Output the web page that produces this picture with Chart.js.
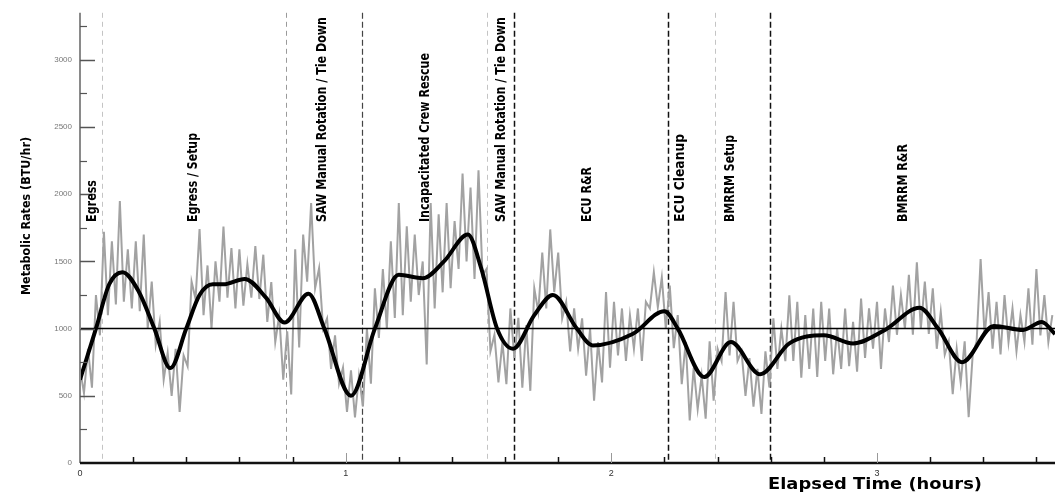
<!DOCTYPE html>
<html lang="en">
<head>
<meta charset="UTF-8">
<title>Metabolic Rates</title>
<style>
  body { margin: 0; padding: 0; background: #fff; }
  #wrap { width: 1055px; height: 493px; }
</style>
<script src="https://cdn.jsdelivr.net/npm/chart.js"></script>
</head>
<body>
<div id="wrap"><canvas id="metChart" width="1055" height="493"></canvas></div>
<script>
// Raw metabolic rate trace (BTU/hr), one reading every rawStep hours
const rawStep = 0.015;
const rawValues = [
  700, 520, 850, 560, 1250, 950, 1720, 1100, 1650, 1180,
  1950, 1200, 1590, 1150, 1650, 1130, 1700, 1000, 1350, 880,
  1050, 620, 820, 500, 850, 380, 800, 720, 1350, 1220,
  1740, 1100, 1470, 1000, 1500, 1200, 1760, 1230, 1600, 1150,
  1590, 1170, 1480, 1230, 1615, 1220, 1550, 1050, 1346, 900,
  1100, 620, 980, 510, 1590, 860, 1700, 1350, 1934, 1300,
  1450, 1000, 1076, 700, 950, 590, 710, 380, 690, 340,
  650, 420, 1000, 590, 1300, 930, 1444, 1000, 1650, 1080,
  1934, 1100, 1762, 1200, 1700, 1250, 1500, 733, 1934, 1150,
  1850, 1270, 1934, 1300, 1800, 1444, 2154, 1500, 2050, 1370,
  2179, 1400, 1444, 831, 954, 600, 900, 586, 1150, 782,
  1080, 560, 1027, 537, 1300, 1125, 1566, 1150, 1738, 1272,
  1566, 1076, 1199, 831, 1150, 850, 1076, 650, 1000, 463,
  900, 600, 1272, 709, 1200, 800, 1150, 760, 1100, 850,
  1150, 760, 1200, 1150, 1419, 1160, 1380, 1000, 1321, 855,
  1100, 586, 900, 316, 709, 400, 650, 330, 905, 463,
  850, 758, 1272, 800, 1200, 760, 831, 500, 780, 420,
  700, 365, 831, 562, 1076, 700, 1000, 758, 1248, 760,
  1199, 635, 1100, 700, 1150, 640, 1199, 760, 1150, 660,
  1000, 700, 1150, 720, 1050, 680, 1223, 782, 1150, 850,
  1200, 700, 1150, 900, 1321, 954, 1250, 1000, 1400, 954,
  1493, 1000, 1350, 960, 1300, 850, 1125, 807, 905, 513,
  850, 600, 905, 341, 800, 905, 1517, 950, 1272, 850,
  1200, 807, 1250, 900, 1150, 831, 1100, 900, 1300, 880,
  1444, 950, 1250, 900, 1100
];

// Smoothed trend (black curve)
const smoothTimes = [
  0.00, 0.06, 0.11, 0.16, 0.22, 0.28, 0.34, 0.40, 0.45, 0.50,
  0.54, 0.62, 0.70, 0.77, 0.86, 0.92, 1.02, 1.11, 1.20, 1.29,
  1.37, 1.46, 1.51, 1.57, 1.63, 1.71, 1.78, 1.87, 1.93, 2.08,
  2.20, 2.25, 2.35, 2.45, 2.56, 2.67, 2.80, 2.91, 3.03, 3.16,
  3.23, 3.32, 3.44, 3.55, 3.62, 3.67
];
const smoothValues = [
  620, 1000, 1330, 1420, 1280, 1000, 706, 1000, 1250, 1330,
  1330, 1370, 1230, 1045, 1260, 1000, 500, 1000, 1400, 1375,
  1500, 1700, 1450, 1000, 850, 1100, 1250, 1000, 875, 960,
  1130, 1000, 640, 900, 660, 890, 950, 890, 990, 1155,
  1000, 750, 1020, 990, 1050, 960
];

const baselineValue = 1000;

// Task boundaries (hours) and task labels
const eventTimes = [0.081, 0.774, 1.063, 1.533, 1.635, 2.214, 2.392, 2.598];
const taskLabels = [
  'Egress', 'Egress / Setup', 'SAW Manual Rotation / Tie Down',
  'Incapacitated Crew Rescue', 'SAW Manual Rotation / Tie Down',
  'ECU R&R', 'ECU Cleanup', 'BMRRM Setup', 'BMRRM R&R'
];
const taskLabelTimes = [0.047, 0.428, 0.913, 1.300, 1.586, 1.910, 2.260, 2.448, 3.098];

const xTicks = [0, 1, 2, 3];
const yTicks = [0, 500, 1000, 1500, 2000, 2500, 3000];

// styles for the boundary lines and label lengths (px)
const eventStyles = [
  { color: '#c4c4c4', dash: [5, 4], width: 1 },
  { color: '#9a9a9a', dash: [5, 4], width: 1 },
  { color: '#444444', dash: [6, 3], width: 1.2 },
  { color: '#c4c4c4', dash: [5, 4], width: 1 },
  { color: '#111111', dash: [6, 3], width: 1.5 },
  { color: '#111111', dash: [6, 3], width: 1.5 },
  { color: '#c4c4c4', dash: [5, 4], width: 1 },
  { color: '#111111', dash: [6, 3], width: 1.5 }
];
const labelLengths = [42, 89, 205, 169, 205, 55, 88, 87, 78];

const NARROW = '"Liberation Sans Narrow", "DejaVu Sans Condensed", Arial, sans-serif';

// draws text stretched/squeezed to a given length
function fitText(ctx, text, len) {
  const w = ctx.measureText(text).width;
  ctx.save();
  ctx.scale(len / w, 1);
  ctx.fillText(text, 0, 0);
  ctx.restore();
}

const decorPlugin = {
  id: 'decor',
  beforeDatasetsDraw(chart) {
    const ctx = chart.ctx;
    const x = chart.scales.x, area = chart.chartArea;
    ctx.save();
    eventTimes.forEach((t, i) => {
      const st = eventStyles[i];
      const px = Math.round(x.getPixelForValue(t)) + 0.5;
      ctx.strokeStyle = st.color;
      ctx.lineWidth = st.width;
      ctx.setLineDash(st.dash);
      ctx.beginPath();
      ctx.moveTo(px, area.top);
      ctx.lineTo(px, area.bottom);
      ctx.stroke();
    });
    ctx.restore();
  },
  afterDraw(chart) {
    const ctx = chart.ctx;
    const x = chart.scales.x, y = chart.scales.y, area = chart.chartArea;
    ctx.save();

    // axes
    ctx.strokeStyle = '#8a8a8a';
    ctx.lineWidth = 2;
    ctx.beginPath();
    ctx.moveTo(area.left, area.top);
    ctx.lineTo(area.left, area.bottom);
    ctx.stroke();
    ctx.strokeStyle = '#111';
    ctx.lineWidth = 2.5;
    ctx.beginPath();
    ctx.moveTo(area.left, area.bottom);
    ctx.lineTo(area.right, area.bottom);
    ctx.stroke();

    // y ticks, inside the plot
    ctx.strokeStyle = '#555';
    for (let v = 250; v <= 3250; v += 250) {
      const py = Math.round(y.getPixelForValue(v)) + 0.5;
      const major = v % 500 === 0;
      ctx.lineWidth = major ? 1.5 : 1.2;
      ctx.beginPath();
      ctx.moveTo(area.left, py);
      ctx.lineTo(area.left + (major ? 15 : 7), py);
      ctx.stroke();
    }

    // x ticks
    for (let k = 1; k <= 18; k++) {
      const t = k * 0.2;
      const px = Math.round(x.getPixelForValue(t)) + 0.5;
      const major = k % 5 === 0;
      ctx.strokeStyle = major ? '#999' : '#111';
      ctx.lineWidth = major ? 1 : 1.5;
      ctx.beginPath();
      ctx.moveTo(px, area.bottom);
      ctx.lineTo(px, area.bottom - (major ? 10 : 6));
      ctx.stroke();
    }

    // task labels
    ctx.fillStyle = '#000';
    ctx.font = 'bold 14px ' + NARROW;
    ctx.textAlign = 'left';
    ctx.textBaseline = 'middle';
    taskLabels.forEach((txt, i) => {
      ctx.save();
      ctx.translate(x.getPixelForValue(taskLabelTimes[i]), 222);
      ctx.rotate(-Math.PI / 2);
      fitText(ctx, txt, labelLengths[i]);
      ctx.restore();
    });

    // y title
    ctx.save();
    ctx.font = 'bold 13px ' + NARROW;
    ctx.translate(27, 295);
    ctx.rotate(-Math.PI / 2);
    fitText(ctx, 'Metabolic Rates (BTU/hr)', 158);
    ctx.restore();

    // x title
    ctx.save();
    ctx.font = 'bold 15px "DejaVu Sans", Arial, sans-serif';
    ctx.translate(768, 485);
    fitText(ctx, 'Elapsed Time (hours)', 214);
    ctx.restore();

    ctx.restore();
  }
};

const ctx = document.getElementById('metChart').getContext('2d');
new Chart(ctx, {
  type: 'line',
  data: {
    datasets: [
      {
        label: 'Trend',
        data: smoothTimes.map((t, i) => ({ x: t, y: smoothValues[i] })),
        borderColor: '#000',
        borderWidth: 4,
        pointRadius: 0,
        cubicInterpolationMode: 'monotone',
        order: 0
      },
      {
        label: 'Baseline',
        data: [{ x: 0, y: baselineValue }, { x: 3.67, y: baselineValue }],
        borderColor: '#000',
        borderWidth: 1.5,
        pointRadius: 0,
        order: 1
      },
      {
        label: 'Metabolic rate',
        data: rawValues.map((v, i) => ({ x: i * rawStep, y: v })),
        borderColor: '#a2a2a2',
        borderWidth: 2,
        pointRadius: 0,
        tension: 0,
        order: 2
      }
    ]
  },
  options: {
    responsive: false,
    animation: false,
    devicePixelRatio: 1,
    layout: { padding: { top: 8, right: 0, left: 0, bottom: 0 } },
    plugins: {
      legend: { display: false },
      tooltip: { enabled: false }
    },
    scales: {
      x: {
        type: 'linear',
        min: 0,
        max: 3.67,
        afterBuildTicks: s => { s.ticks = xTicks.map(v => ({ value: v })); },
        afterFit: s => { s.height = 30; },
        grid: { display: false, drawTicks: false },
        border: { display: false },
        ticks: { color: '#333', font: { size: 9 }, padding: 5, maxRotation: 0 }
      },
      y: {
        min: 0,
        max: 3350,
        afterBuildTicks: s => { s.ticks = yTicks.map(v => ({ value: v })); },
        afterFit: s => { s.width = 80; },
        grid: { display: false, drawTicks: false },
        border: { display: false },
        ticks: { color: '#777', font: { size: 8 }, padding: 8, callback: v => String(v) }
      }
    }
  },
  plugins: [decorPlugin]
});
</script>
</body>
</html>
